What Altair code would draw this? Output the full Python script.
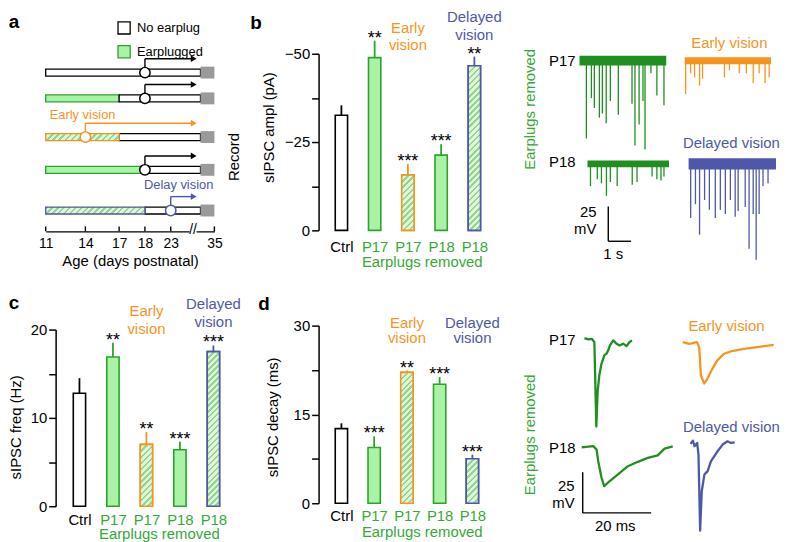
import altair as alt
import numpy as np
import pandas as pd

FONT = "Liberation Sans"
GREEN = "#2ca32c"
GREEN_FILL = "#aaf3a6"
GREEN_TXT = "#35a935"
TRACE_GREEN = "#1f8f1f"
ORANGE = "#f7941e"
BLUE = "#4d58a8"
HATCH_DARK = "#93d68f"
HATCH_LIGHT = "#dff6d9"
GREY = "#9a9a9a"

# ---------------- data: panel a (protocol timeline) ----------------
a_rows = [1, 2, 3, 4, 5]
a_kind = ["ctrl", "plug", "early", "plug", "delayed"]
a_plug_end = [11, 17, 17, 18, 18]
a_vision = [18, 18, 14, 18, 23]
a_ticks = [11, 14, 17, 18, 23, 35]
a_record = [30, 35]
a_arrow_end = 28.4

# ---------------- data: bar panels ----------------
bar_labels = ["Ctrl", "P17", "P17", "P18", "P18"]
bar_kind = ["ctrl", "plug", "early", "plug", "delayed"]
ampl = [-32.6, -48.9, -15.7, -21.3, -46.6]
ampl_err = [2.8, 4.8, 3.1, 3.1, 2.6]
ampl_sig = ["", "**", "***", "***", "**"]
freq = [12.8, 16.9, 7.0, 6.4, 17.5]
freq_err = [1.7, 1.6, 1.4, 0.9, 0.7]
freq_sig = ["", "**", "**", "***", "***"]
decay = [12.6, 9.4, 22.1, 20.1, 7.5]
decay_err = [0.9, 1.9, 0.3, 1.2, 0.7]
decay_sig = ["", "***", "**", "***", "***"]

# ---------------- data: spontaneous traces (panel b, right) ----------------
tb_names = ["P17", "Early", "P18", "Delayed"]
tb_dur = [3.80, 3.78, 3.57, 3.83]          # s
tb_noise = [7, 5, 5, 8]                     # mV peak-to-peak
p17_spk_t = [0.30, 0.52, 0.65, 0.87, 1.00, 1.17, 1.35, 1.70, 2.30, 2.43, 2.61, 2.78, 2.87, 3.13, 3.39, 3.70]
p17_spk_a = [-56, -27, -34, -41, -38, -45, -29, -39, -31, -61, -46, -29, -64, -9, -25, -32]
early_spk_t = [0.04, 0.26, 0.43, 0.65, 0.78, 1.74, 1.96, 2.39, 2.70, 3.00, 3.26, 3.52, 3.70]
early_spk_a = [-24, -9, -12, -18, -13, -12, -7, -9, -9, -16, -9, -16, -12]
p18_spk_t = [0.13, 0.43, 0.61, 0.83, 1.00, 1.30, 1.96, 2.17, 2.83, 3.04, 3.22, 3.35]
p18_spk_a = [-16, -11, -14, -23, -13, -16, -15, -13, -9, -11, -12, -9]
delayed_spk_t = [0.09, 0.30, 0.48, 0.70, 0.91, 1.17, 1.39, 1.61, 1.83, 2.04, 2.17, 2.48, 2.65, 2.83, 2.96, 3.09, 3.26, 3.48]
delayed_spk_a = [-39, -29, -51, -26, -33, -39, -33, -36, -26, -38, -34, -31, -61, -36, -69, -36, -16, -14]
tb_scalebar = [25, 1]                       # mV, s

# ---------------- data: averaged sIPSCs (panel d, right) ----------------
p17_avg_t = [0, 1.16, 2.13, 2.9, 3.48, 3.86, 4.35, 5.0, 5.8, 6.47, 6.96, 7.44, 8.4, 9.37, 10.3, 11.3, 12.3, 13.2, 13.9]
p17_avg_v = [0.2, -0.6, -0.2, -2.2, -54.1, -32.7, -22.6, -15.4, -10.4, -9.3, -7.3, -4.3, -1.2, -3.2, -4.3, -3.2, -4.7, -2.2, -1.2]
early_avg_t = [0, 1.93, 4.15, 4.83, 5.31, 6.28, 7.25, 8.7, 10.1, 12.1, 14.0, 17.9, 21.7, 26.6]
early_avg_v = [0, -1.0, 0, -3.0, -20.3, -25.4, -22.3, -16.2, -11.2, -7.1, -5.7, -4.1, -3.0, -1.6]
p18_avg_t = [0, 1.93, 3.38, 4.35, 4.83, 5.8, 6.57, 8.2, 10.6, 13.5, 16.4, 19.3, 22.2, 24.2, 26.6]
p18_avg_v = [0, 0.4, 0.8, -1.4, -8.5, -18.7, -23.8, -20.7, -16.6, -11.6, -8.9, -6.5, -4.9, -0.8, 0.6]
delayed_avg_t = [0, 0.68, 1.16, 1.93, 2.32, 2.8, 3.28, 4.06, 5.0, 5.97, 7.9, 9.37, 10.8, 11.8, 12.9]
delayed_avg_v = [0, 2.0, -1.4, 0.6, -6.5, -53.3, -28.9, -18.7, -16.7, -10.6, -4.5, -0.4, 1.6, 0.6, 1.0]
td_scalebar = [25, 20]                      # mV, ms

# ---------------- layout ----------------
A_W, A_H = 265, 179
B_W, B_H = 182, 178
C_H = 182
D_H = 179
T_W = 280
TRACE_COLORS = alt.Scale(domain=tb_names, range=[TRACE_GREEN, ORANGE, TRACE_GREEN, BLUE])
KIND_DOMAIN = ["ctrl", "plug", "early", "delayed"]


def hatch(w, h, spacing=4.3):
    n = max(1, int(round((w + h) / (spacing * 2 ** 0.5))))
    k = (w + h) / (w * w + h * h)
    stops = []
    for j in range(n):
        a, b, c = j / n, (j + 0.42) / n, (j + 1) / n
        stops += [alt.GradientStop(color=HATCH_DARK, offset=a), alt.GradientStop(color=HATCH_DARK, offset=b),
                  alt.GradientStop(color=HATCH_LIGHT, offset=b), alt.GradientStop(color=HATCH_LIGHT, offset=c)]
    return alt.LinearGradient(gradient="linear", stops=stops, x1=0, y1=0, x2=k * w, y2=k * h)


def txt(text, x, y, size=15, color="black", align="center", baseline="middle", angle=0, weight="normal"):
    return alt.Chart(pd.DataFrame({"t": [text]})).mark_text(
        font=FONT, fontSize=size, color=color, align=align, baseline=baseline,
        angle=angle, fontWeight=weight).encode(x=alt.value(x), y=alt.value(y), text="t:N")


# ================= panel a =================
xs_dom = a_ticks[:5] + [a_record[0], a_ticks[-1]]
xs_rng = [-10, 30, 64, 90, 116, 146, 160]
ax_scale = alt.Scale(domain=xs_dom, range=xs_rng, zero=False, nice=False)
ay_scale = alt.Scale(domain=a_rows, range=[19, 45, 84, 117, 158], zero=False, nice=False)
a_xaxis = alt.Axis(values=a_ticks, format="d", ticks=False, tickSize=0, domainColor="black", domainWidth=1.4,
                   labelFont=FONT, labelFontSize=14, labelColor="black", labelPadding=5, labelFlush=False,
                   labelOverlap=False, title="Age (days postnatal)", titleFont=FONT, titleFontSize=15,
                   titleFontWeight="normal", titleColor="black", titlePadding=3, grid=False)

a_df = pd.DataFrame({"row": a_rows, "kind": a_kind, "plug_end": a_plug_end, "vision": a_vision})
seg_rows = []
for r, k, pe in zip(a_rows, a_kind, a_plug_end):
    if pe > a_ticks[0]:
        seg_rows.append({"row": r, "start": a_ticks[0], "end": pe,
                         "seg": {"plug": "Earplugged", "early": "hatch_early", "delayed": "hatch_delayed"}[k]})
    seg_rows.append({"row": r, "start": pe, "end": a_record[0], "seg": "No earplug"})
seg_df = pd.DataFrame(seg_rows)

leg = alt.Legend(orient="none", legendX=62, legendY=-33, title=None, symbolType="square", symbolSize=150,
                 symbolStrokeWidth=1.3, labelFont=FONT, labelFontSize=13, labelOffset=6, rowPadding=6, padding=0)
a_x = alt.X("start:Q", scale=ax_scale, axis=a_xaxis)
a_y = alt.Y("row:Q", scale=ay_scale, axis=None)
seg_solid = alt.Chart(seg_df).transform_filter(
    alt.FieldOneOfPredicate(field="seg", oneOf=["No earplug", "Earplugged"])
).mark_rect(strokeWidth=1.3, yOffset=-3.5, y2Offset=3.5).encode(
    x=a_x, x2="end:Q", y=a_y, y2="row:Q",
    fill=alt.Fill("seg:N", scale=alt.Scale(domain=["No earplug", "Earplugged"], range=["white", GREEN_FILL]), legend=leg),
    stroke=alt.Stroke("seg:N", scale=alt.Scale(domain=["No earplug", "Earplugged"], range=["black", GREEN]), legend=leg),
)
a_layers = [seg_solid]
for kname, col in [("early", ORANGE), ("delayed", BLUE)]:
    ri = a_kind.index(kname)
    w = float(np.interp(a_plug_end[ri], xs_dom, xs_rng) - np.interp(a_ticks[0], xs_dom, xs_rng))
    a_layers.append(alt.Chart(seg_df).transform_filter(alt.datum.seg == "hatch_" + kname).mark_rect(
        fill=hatch(w, 7), stroke=col, strokeWidth=1.3, yOffset=-3.5, y2Offset=3.5
    ).encode(x=a_x, x2="end:Q", y=a_y, y2="row:Q"))

kind_col = alt.Color("kind:N", scale=alt.Scale(domain=KIND_DOMAIN, range=["black", "black", ORANGE, BLUE]), legend=None)
a_base = alt.Chart(a_df).transform_calculate(rs=str(a_record[0]), re=str(a_record[1]), ae=str(a_arrow_end))
a_layers += [
    a_base.mark_rect(fill=GREY, yOffset=-6, y2Offset=6).encode(
        x=alt.X("rs:Q", scale=ax_scale, axis=a_xaxis), x2="re:Q", y=a_y, y2="row:Q"),
    a_base.mark_rule(strokeWidth=1.4, y2Offset=-14).encode(
        x=alt.X("vision:Q", scale=ax_scale, axis=a_xaxis), y=a_y, y2="row:Q", color=kind_col),
    a_base.mark_rule(strokeWidth=1.4, yOffset=-14).encode(
        x=alt.X("vision:Q", scale=ax_scale, axis=a_xaxis), x2="ae:Q", y=a_y, color=kind_col),
    a_base.mark_point(shape="triangle-right", filled=True, size=45, yOffset=-14, opacity=1).encode(
        x=alt.X("ae:Q", scale=ax_scale, axis=a_xaxis), y=a_y, color=kind_col),
    a_base.mark_point(shape="circle", size=110, strokeWidth=1.5, fill="white", fillOpacity=1, opacity=1).encode(
        x=alt.X("vision:Q", scale=ax_scale, axis=a_xaxis), y=a_y, color=kind_col),
    alt.Chart(pd.DataFrame({"t": a_ticks})).mark_rule(strokeWidth=1.4, color="black").encode(
        x=alt.X("t:Q", scale=ax_scale, axis=a_xaxis), y=alt.value(A_H - 5), y2=alt.value(A_H)),
    alt.Chart(pd.DataFrame({"t": [0]})).mark_rect(fill="white").encode(
        x=alt.value(135), x2=alt.value(142), y=alt.value(A_H - 3), y2=alt.value(A_H + 3)),
    txt("//", 138.5, A_H - 1, size=14),
    txt("a", -42, -32, size=19, weight="bold"),
    txt("Record", 180, 104, size=15, angle=270),
    txt("Early vision", -6, 62, size=13, color=ORANGE, align="left"),
    txt("Delay vision", 89, 132, size=13, color=BLUE, align="left"),
]
panel_a = alt.layer(*a_layers).properties(width=A_W, height=A_H)


# ================= bar panels =================
def bar_panel(values, errs, sigs, neg, ymax, minor, major, ytitle, title_xy, xr, yr, width, height,
              label_pad, xtitle_y, letter, letter_xy, early_ys, delayed_ys):
    sgn = -1 if neg else 1
    step = (xr[1] - xr[0]) / 4.0
    half = 6.2 / step
    df = pd.DataFrame({"i": list(range(5)), "label": bar_labels, "kind": bar_kind,
                       "v": values, "e": errs, "sig": sigs})
    base = alt.Chart(df).transform_calculate(
        x0=f"datum.i - {half}", x1=f"datum.i + {half}", tip=f"datum.v + {sgn} * datum.e", zero="0")
    xscale = alt.Scale(domain=[0, 4], range=xr, zero=False, nice=False)
    yscale = alt.Scale(domain=[0, sgn * ymax], range=yr, zero=False, nice=False)
    ticks = [sgn * minor * k for k in range(int(round(ymax / minor)) + 1)]
    yaxis = alt.Axis(values=ticks, labelExpr=f"datum.value % {major} === 0 ? format(datum.value, 'd') : ''",
                     tickSize=7, tickWidth=1.5, tickColor="black", domainColor="black", domainWidth=1.5,
                     labelFont=FONT, labelFontSize=15, labelColor="black", labelPadding=2, labelOverlap=False,
                     title=ytitle, titleFont=FONT, titleFontSize=15, titleFontWeight="normal", titleColor="black",
                     titleX=title_xy[0], titleY=title_xy[1], titleAngle=270, titleAlign="center",
                     titleBaseline="middle", grid=False)
    expr = "[" + ",".join(f"'{l}'" for l in bar_labels) + "][datum.value]"
    xaxis = alt.Axis(values=[0, 1, 2, 3, 4], labelExpr=expr, domain=False, ticks=False, tickSize=0,
                     labelPadding=label_pad, labelFont=FONT, labelFontSize=15,
                     labelColor={"condition": {"test": "datum.value === 0", "value": "black"}, "value": GREEN_TXT},
                     labelFlush=False, labelOverlap=False, title="Earplugs removed", titleFont=FONT,
                     titleFontSize=15, titleFontWeight="normal", titleColor=GREEN_TXT, titleX=104,
                     titleY=xtitle_y, titleAlign="center", titleBaseline="top", grid=False)
    stroke = alt.Stroke("kind:N", scale=alt.Scale(domain=KIND_DOMAIN, range=["black", GREEN, ORANGE, BLUE]),
                        legend=None)
    fill = alt.Fill("kind:N", scale=alt.Scale(domain=KIND_DOMAIN, range=["white", GREEN_FILL, HATCH_LIGHT, HATCH_LIGHT]),
                    legend=None)
    layers = [
        base.mark_rule(strokeWidth=1.8).encode(
            x=alt.X("i:Q", scale=xscale, axis=xaxis), y=alt.Y("v:Q", scale=yscale, axis=yaxis), y2="tip:Q",
            stroke=stroke),
        base.mark_rect(strokeWidth=1.6).encode(
            x=alt.X("x0:Q", scale=xscale, axis=xaxis), x2="x1:Q",
            y=alt.Y("v:Q", scale=yscale, axis=yaxis), y2="zero:Q", fill=fill, stroke=stroke),
    ]
    pxu = abs(yr[0] - yr[1]) / ymax
    for kname, col in [("early", ORANGE), ("delayed", BLUE)]:
        i = bar_kind.index(kname)
        h = abs(values[i]) * pxu
        layers.append(base.transform_filter(f"datum.i == {i}").mark_rect(
            fill=hatch(12.4, h), stroke=col, strokeWidth=1.6).encode(
            x=alt.X("x0:Q", scale=xscale, axis=xaxis), x2="x1:Q",
            y=alt.Y("v:Q", scale=yscale, axis=yaxis), y2="zero:Q"))
    layers.append(base.transform_filter("datum.sig != ''").mark_text(
        font=FONT, fontSize=18, baseline="alphabetic", dy=3, color="black").encode(
        x=alt.X("i:Q", scale=xscale, axis=xaxis), y=alt.Y("tip:Q", scale=yscale, axis=yaxis), text="sig:N"))
    ex = xr[0] + 2 * step
    dx = xr[0] + 4 * step
    layers += [
        txt("Early", ex, early_ys[0], color=ORANGE), txt("vision", ex, early_ys[1], color=ORANGE),
        txt("Delayed", dx, delayed_ys[0], color=BLUE), txt("vision", dx, delayed_ys[1], color=BLUE),
        txt(letter, letter_xy[0], letter_xy[1], size=19, weight="bold"),
    ]
    return alt.layer(*layers).properties(width=width, height=height)


panel_b = bar_panel(ampl, ampl_err, ampl_sig, True, 50, 12.5, 25, "sIPSC ampl (pA)", (-50, 74),
                    [23, 157], [B_H, 0], B_W, B_H, 9, 24, "b", (-63, -31), (-26, -9), (-37, -19))
panel_c = bar_panel(freq, freq_err, freq_sig, False, 20, 5, 10, "sIPSC freq (Hz)", (-40, 102),
                    [24, 159], [C_H, 4], A_W, C_H, 6, 21, "c", (-42, -23), (-15, 3), (-22, -4))
panel_d = bar_panel(decay, decay_err, decay_sig, False, 30, 7.5, 15, "sIPSC decay (ms)", (-46, 92),
                    [23, 155], [D_H, 0], B_W, D_H, 5, 22, "d", (-55, -22), (-3, 13), (-3, 13))


# ================= spontaneous traces (top right) =================
PX_S, PX_MV = 23.0, 1.4
tb_place = {"P17": (3.52, -5.0), "Early": (8.13, -5.0), "P18": (3.87, -79.3), "Delayed": (8.30, -79.3)}
spk_rows, band_rows = [], []
for name, ts, amps in zip(tb_names, [p17_spk_t, early_spk_t, p18_spk_t, delayed_spk_t],
                          [p17_spk_a, early_spk_a, p18_spk_a, delayed_spk_a]):
    x0, b0 = tb_place[name]
    for t, a in zip(ts, amps):
        spk_rows.append({"tr": name, "x": x0 + t, "y0": b0, "y1": b0 + a})
for name, dur, nz in zip(tb_names, tb_dur, tb_noise):
    x0, b0 = tb_place[name]
    band_rows.append({"tr": name, "xs": x0, "xe": x0 + dur, "ylo": b0 - nz / 2, "yhi": b0 + nz / 2})
tbx = alt.Scale(domain=[0, T_W / PX_S], zero=False, nice=False)
tby = alt.Scale(domain=[-B_H / PX_MV, 0], zero=False, nice=False)
tcol = alt.Color("tr:N", scale=TRACE_COLORS, legend=None)
sb_x, sb_y = 4.78, -110.0
sb_df = pd.DataFrame({"mv": [tb_scalebar[0]], "s": [tb_scalebar[1]]})
sb_base = alt.Chart(sb_df).transform_calculate(
    x=str(sb_x), xe=f"{sb_x} + datum.s", yt=str(sb_y), yb=f"{sb_y} - datum.mv")
panel_tb = alt.layer(
    alt.Chart(pd.DataFrame(band_rows)).mark_rect().encode(
        x=alt.X("xs:Q", scale=tbx, axis=None), x2="xe:Q", y=alt.Y("ylo:Q", scale=tby, axis=None), y2="yhi:Q",
        color=tcol),
    alt.Chart(pd.DataFrame(spk_rows)).mark_rule(strokeWidth=1.3).encode(
        x=alt.X("x:Q", scale=tbx, axis=None), y=alt.Y("y0:Q", scale=tby, axis=None), y2="y1:Q", color=tcol),
    sb_base.mark_rule(strokeWidth=1.4, color="black").encode(
        x=alt.X("x:Q", scale=tbx, axis=None), y=alt.Y("yt:Q", scale=tby, axis=None), y2="yb:Q"),
    sb_base.mark_rule(strokeWidth=1.4, color="black").encode(
        x=alt.X("x:Q", scale=tbx, axis=None), x2="xe:Q", y=alt.Y("yb:Q", scale=tby, axis=None)),
    txt("P17", 77, 7, align="right"),
    txt("P18", 77, 109, align="right"),
    txt("Earplugs removed", 31, 56, color=GREEN_TXT, angle=270),
    txt("Early vision", 232, -11, color=ORANGE),
    txt("Delayed vision", 234, 90, color=BLUE),
    txt("25", 98, 160, align="right"),
    txt("mV", 98, 177, align="right"),
    txt("1 s", 115, 202),
).properties(width=T_W, height=B_H)


# ================= averaged sIPSCs (bottom right) =================
PX_MS, PX_MV2 = 3.45, 1.64
td_place = {"P17": (24.9, -7.9), "Early": (53.6, -10.2), "P18": (24.1, -74.8), "Delayed": (55.9, -72.7)}
avg_rows = []
for name, ts, vs in zip(tb_names, [p17_avg_t, early_avg_t, p18_avg_t, delayed_avg_t],
                        [p17_avg_v, early_avg_v, p18_avg_v, delayed_avg_v]):
    x0, b0 = td_place[name]
    for k, (t, v) in enumerate(zip(ts, vs)):
        avg_rows.append({"tr": name, "k": k, "x": x0 + t, "y": b0 + v})
tdx = alt.Scale(domain=[0, T_W / PX_MS], zero=False, nice=False)
tdy = alt.Scale(domain=[-D_H / PX_MV2, 0], zero=False, nice=False)
sd_x, sd_y = 24.4, -90.1
sd_df = pd.DataFrame({"mv": [td_scalebar[0]], "ms": [td_scalebar[1]]})
sd_base = alt.Chart(sd_df).transform_calculate(
    x=str(sd_x), xe=f"{sd_x} + datum.ms", yt=str(sd_y), yb=f"{sd_y} - datum.mv")
panel_td = alt.layer(
    alt.Chart(pd.DataFrame(avg_rows)).mark_line(strokeWidth=2.3, strokeJoin="round").encode(
        x=alt.X("x:Q", scale=tdx, axis=None), y=alt.Y("y:Q", scale=tdy, axis=None),
        color=tcol, detail="tr:N", order="k:Q"),
    sd_base.mark_rule(strokeWidth=1.4, color="black").encode(
        x=alt.X("x:Q", scale=tdx, axis=None), y=alt.Y("yt:Q", scale=tdy, axis=None), y2="yb:Q"),
    sd_base.mark_rule(strokeWidth=1.4, color="black").encode(
        x=alt.X("x:Q", scale=tdx, axis=None), x2="xe:Q", y=alt.Y("yb:Q", scale=tdy, axis=None)),
    txt("P17", 77, 15, align="right"),
    txt("P18", 77, 123, align="right"),
    txt("Earplugs removed", 31, 110, color=GREEN_TXT, angle=270),
    txt("Early vision", 229, 0, color=ORANGE),
    txt("Delayed vision", 234, 102, color=BLUE),
    txt("25", 76, 162, align="right"),
    txt("mV", 76, 179, align="right"),
    txt("20 ms", 117, 202),
).properties(width=T_W, height=D_H)

indep = dict(color="independent", fill="independent", stroke="independent")
row1 = alt.hconcat(panel_a, panel_b, panel_tb, spacing=0, bounds="flush").resolve_scale(**indep)
row2 = alt.hconcat(panel_c, panel_d, panel_td, spacing=0, bounds="flush").resolve_scale(**indep)
chart = alt.vconcat(row1, row2, spacing=25, bounds="full").resolve_scale(**indep).properties(
    padding=0
).configure_view(stroke=None).configure_axis(grid=False)

chart.save("out.html", embed_options={"renderer": "svg", "actions": False})
